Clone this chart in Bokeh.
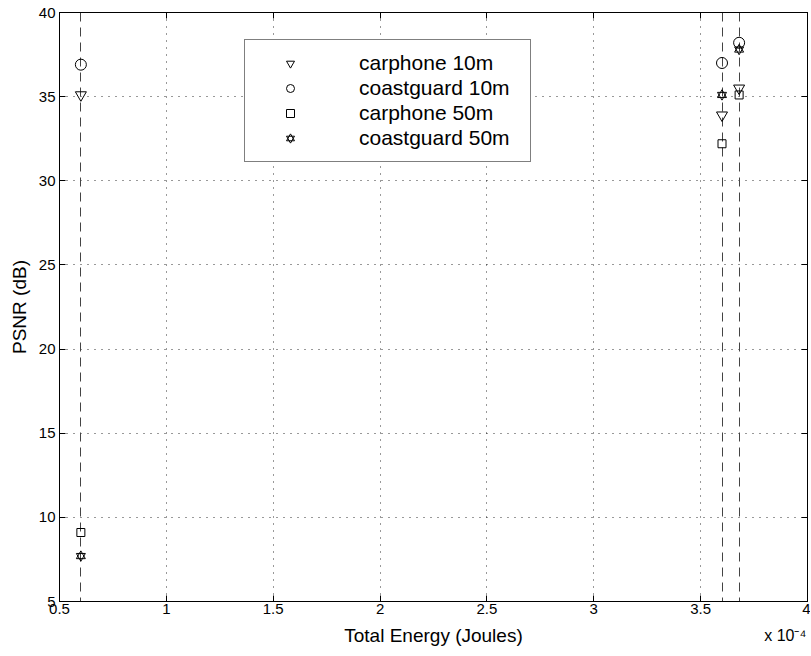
from bokeh.plotting import figure
from bokeh.models import (Range1d, LinearAxis, Legend, LegendItem,
                          FixedTicker, ColumnDataSource)
from bokeh.embed import file_html
from bokeh.resources import INLINE

# ---- data (x in units of 1e-4 Joules) ----
energy_levels = [0.6, 3.6, 3.68]
carphone_10m = [35.1, 33.9, 35.5]
coastguard_10m = [36.9, 37.0, 38.2]
carphone_50m = [9.1, 32.2, 35.1]
coastguard_50m = [7.7, 35.1, 37.8]
x_ticks = [0.5, 1, 1.5, 2, 2.5, 3, 3.5, 4]
y_ticks = [5, 10, 15, 20, 25, 30, 35, 40]
series_labels = ["carphone 10m", "coastguard 10m", "carphone 50m", "coastguard 50m"]
x_exponent_label = "x 10\u207b\u2074"

FONT = "Liberation Sans"

p = figure(width=810, height=655, output_backend="svg", toolbar_location=None,
           x_range=Range1d(0.5, 4), y_range=Range1d(5, 40),
           min_border_left=59, min_border_right=3, min_border_top=12,
           min_border_bottom=54)
p.background_fill_color = "white"
p.border_fill_color = "white"
p.outline_line_color = "black"
p.outline_line_width = 1

for ax, ticks in ((p.xaxis[0], x_ticks), (p.yaxis[0], y_ticks)):
    ax.ticker = FixedTicker(ticks=ticks)
    ax.major_tick_in = 6
    ax.major_tick_out = 0
    ax.minor_tick_in = 0
    ax.minor_tick_out = 0
    ax.axis_line_color = "black"
    ax.major_tick_line_color = "black"
    ax.major_label_text_font = FONT
    ax.major_label_text_font_size = "15px"
    ax.major_label_text_color = "black"
    ax.axis_label_text_font = FONT
    ax.axis_label_text_font_size = "19px"
    ax.axis_label_text_font_style = "normal"
    ax.axis_label_text_color = "black"

p.xaxis.axis_label = "Total Energy (Joules)"
p.yaxis.axis_label = "PSNR (dB)"
p.xaxis.major_label_standoff = 2
p.xaxis.axis_label_standoff = 8
p.yaxis.major_label_standoff = 4
p.yaxis.axis_label_standoff = 6

# mirrored (inward) ticks on the top and right edges, drawn as unlabeled minor ticks
for loc, ticks in (("right", y_ticks), ("above", x_ticks)):
    ax = LinearAxis(ticker=FixedTicker(ticks=[], minor_ticks=ticks))
    ax.major_tick_in = 0
    ax.major_tick_out = 0
    ax.minor_tick_in = 6
    ax.minor_tick_out = 0
    ax.major_label_standoff = 0
    ax.axis_line_color = "black"
    ax.minor_tick_line_color = "black"
    p.add_layout(ax, loc)

# exponent of the x axis, drawn as the label of a bare extra axis pulled up;
# the label is centred on the right edge, so it is padded on its right side
expo = LinearAxis(ticker=FixedTicker(ticks=[]),
                  axis_label=x_exponent_label + "\u00a0" * 10)
expo.axis_label_align = "end"
expo.axis_label_standoff = -22
expo.major_label_standoff = 0
expo.major_tick_in = 0
expo.major_tick_out = 0
expo.minor_tick_in = 0
expo.minor_tick_out = 0
expo.axis_line_color = None
expo.axis_label_text_font = FONT
expo.axis_label_text_font_size = "16px"
expo.axis_label_text_font_style = "normal"
expo.axis_label_text_color = "black"
p.add_layout(expo, "below")

# grid
p.xgrid.ticker = FixedTicker(ticks=x_ticks)
p.ygrid.ticker = FixedTicker(ticks=y_ticks)
for g in (p.xgrid[0], p.ygrid[0]):
    g.grid_line_color = "black"
    g.grid_line_dash = "1 6"
    g.grid_line_width = 1
    g.grid_line_alpha = 0.8

# dashed vertical lines at each energy level
p.vspan(x=energy_levels, line_color="#444444", line_dash="9 6", line_width=1)

src = ColumnDataSource(dict(x=energy_levels, c10=carphone_10m, g10=coastguard_10m,
                            c50=carphone_50m, g50=coastguard_50m))
common = dict(fill_color=None, line_color="black", line_width=1)
r1 = p.scatter("x", "c10", source=src, marker="inverted_triangle", size=11, **common)
r2 = p.scatter("x", "g10", source=src, marker="circle", size=11, **common)
r3 = p.scatter("x", "c50", source=src, marker="square", size=8, **common)
r4a = p.scatter("x", "g50", source=src, marker="triangle", size=9, **common)
r4b = p.scatter("x", "g50", source=src, marker="inverted_triangle", size=9, **common)

legend = Legend(items=[
    LegendItem(label=series_labels[0], renderers=[r1]),
    LegendItem(label=series_labels[1], renderers=[r2]),
    LegendItem(label=series_labels[2], renderers=[r3]),
    LegendItem(label=series_labels[3], renderers=[r4a, r4b]),
], location=(185, 439))
legend.label_text_font = FONT
legend.label_text_font_size = "21px"
legend.label_text_color = "black"
legend.label_height = 23
legend.label_width = 160
legend.glyph_height = 20
legend.glyph_width = 68
legend.label_standoff = 35
legend.spacing = 1
legend.padding = 11
legend.border_line_color = "black"
legend.border_line_width = 1
legend.background_fill_color = "white"
legend.background_fill_alpha = 1
p.add_layout(legend, "center")

open("out.html", "w").write(file_html(p, INLINE))
